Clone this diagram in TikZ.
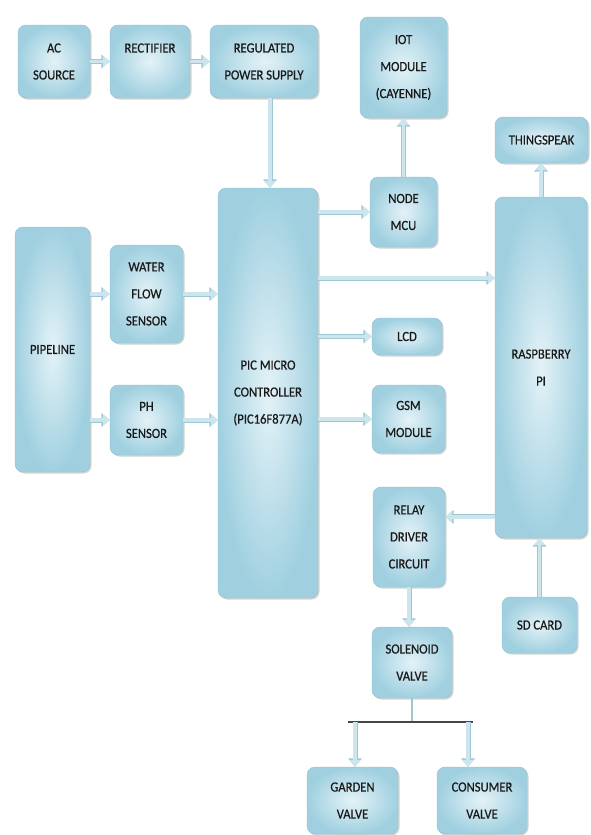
\documentclass[tikz,border=0pt]{standalone}
\usepackage{fontspec}
\setmainfont{Carlito}[FakeStretch=0.9, FakeBold=0.6]
\usetikzlibrary{shapes,arrows.meta,positioning,calc,shadows}
\definecolor{boxlight}{RGB}{228,242,247}
\definecolor{boxdark}{RGB}{160,208,224}
\definecolor{boxedge}{RGB}{145,192,210}
\definecolor{pipefill}{RGB}{205,230,238}
\definecolor{pipeedge}{RGB}{160,198,212}
\definecolor{barcol}{RGB}{70,70,70}

\begin{document}
\begin{tikzpicture}[x=1pt, y=-1pt, font=\fontsize{14}{27}\selectfont]
    \tikzstyle{block} = [rectangle, draw=boxedge, inner color=boxlight, outer color=boxdark, rounded corners=8pt, align=center, text=black!90, drop shadow={shadow xshift=1.5pt, shadow yshift=-1.5pt, opacity=0.35}]
    \tikzstyle{line} = [draw=pipefill, line width=3.5pt, -{Triangle[length=7pt,width=11pt]}, preaction={draw=pipeedge, line width=5pt, -{Triangle[length=8.5pt,width=13.5pt]}}]

    \useasboundingbox (0,0) rectangle (590,835);

    \node [block, minimum width=72pt, minimum height=73pt] (ac) at (54,61.5) {AC\\SOURCE};
    \node [block, minimum width=80pt, minimum height=73pt] (rect) at (150,61.5) {RECTIFIER\\~};
    \node [block, minimum width=108pt, minimum height=73pt] (reg) at (264,61.5) {REGULATED\\POWER SUPPLY};
    \node [block, minimum width=87pt, minimum height=101pt] (iot) at (403.5,67.5) {IOT\\MODULE\\(CAYENNE)};
    \node [block, minimum width=93pt, minimum height=46pt] (thing) at (541.5,140) {THINGSPEAK};
    \node [block, minimum width=67pt, minimum height=70pt] (mcu) at (403.5,212) {NODE\\MCU};
    \node [block, minimum width=100pt, minimum height=410pt] (pic) at (268,393) {PIC MICRO\\CONTROLLER\\(PIC16F877A)};
    \node [block, minimum width=75pt, minimum height=245pt] (pipe) at (52.5,349.5) {PIPELINE};
    \node [block, minimum width=73pt, minimum height=98pt] (flow) at (146.5,294) {WATER\\FLOW\\SENSOR};
    \node [block, minimum width=73pt, minimum height=70pt] (ph) at (146.5,420) {PH\\SENSOR};
    \node [block, minimum width=70pt, minimum height=37pt] (lcd) at (407,336.5) {LCD};
    \node [block, minimum width=73pt, minimum height=68pt] (gsm) at (408.5,419) {GSM\\MODULE};
    \node [block, minimum width=92pt, minimum height=341pt] (rpi) at (541,367.5) {RASPBERRY\\PI};
    \node [block, minimum width=72pt, minimum height=100pt] (relay) at (409,537) {RELAY\\DRIVER\\CIRCUIT};
    \node [block, minimum width=75pt, minimum height=56pt] (sd) at (539.5,625) {SD CARD};
    \node [block, minimum width=80pt, minimum height=71pt] (sol) at (412,662.5) {SOLENOID\\VALVE};
    \node [block, minimum width=91pt, minimum height=67pt] (garden) at (352.5,800.5) {GARDEN\\VALVE};
    \node [block, minimum width=90pt, minimum height=67pt] (consumer) at (482,800.5) {CONSUMER\\VALVE};

    \coordinate (picrpi) at ($(pic.north east)!0.22!(pic.south east)$);
    \coordinate (rpirelay) at ($(relay.north east)!0.3!(relay.south east)$);
    \coordinate (split) at (sol.south |- 0,722);
    \coordinate (barl) at (348,722);
    \coordinate (barr) at (473,722);
    \coordinate (tapl) at (355,722);
    \coordinate (tapr) at (468,722);

    \path [line] (ac) -- (rect);
    \path [line] (rect) -- (reg);
    \path [line] ([xshift=6pt]reg.south) -- ([xshift=6pt]reg.south |- pic.north);
    \path [line] (pipe.east |- flow) -- (flow.west);
    \path [line] (flow.east) -- (flow.east -| pic.west);
    \path [line] (pipe.east |- ph) -- (ph.west);
    \path [line] (ph.east) -- (ph.east -| pic.west);
    \path [line] (pic.east |- mcu) -- (mcu.west);
    \path [line] (picrpi) -- (picrpi -| rpi.west);
    \path [line] (pic.east |- lcd) -- (lcd.west);
    \path [line] (pic.east |- gsm) -- (gsm.west);
    \path [line] (mcu.north) -- (mcu.north |- iot.south);
    \path [line] (rpi.north) -- (rpi.north |- thing.south);
    \path [line] (rpirelay -| rpi.west) -- (rpirelay);
    \path [line] (sd.north) -- (sd.north |- rpi.south);
    \path [line] (relay.south) -- (relay.south |- sol.north);

    \draw [pipeedge, line width=2.5pt] (sol.south) -- (split);
    \draw [barcol, line width=2pt] (barl) -- (barr);
    \path [line] (tapl) -- (tapl |- garden.north);
    \path [line] (tapr) -- (tapr |- consumer.north);
\end{tikzpicture}
\end{document}
